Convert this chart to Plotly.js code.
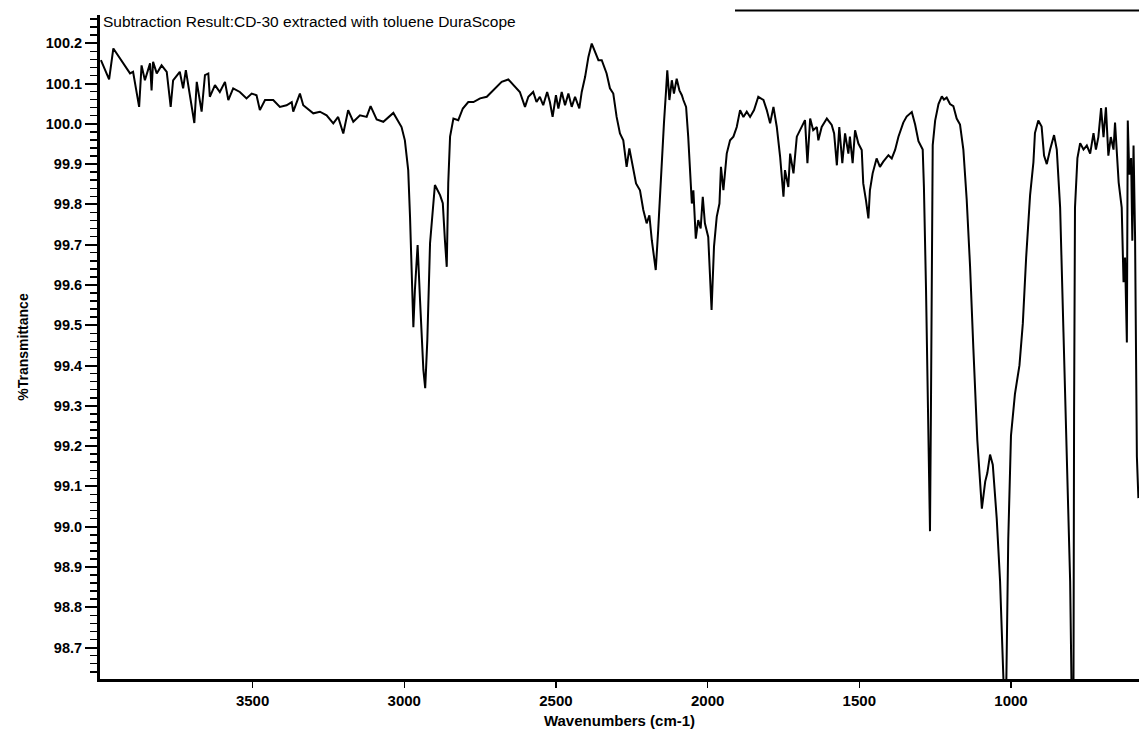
<!DOCTYPE html>
<html>
<head>
<meta charset="utf-8">
<script src="https://cdn.plot.ly/plotly-3.0.1.min.js"></script>
<style>html,body{margin:0;padding:0;background:#fff;}#chart{width:1139px;height:733px;}</style>
</head>
<body>
<div id="chart"></div>
<script>
// Wavenumbers (cm-1), descending
const wavenumber = [
4000,3973,3959,3937,3921,3904,3894,3874,3866,3855,3838,3833,3828,3816,3800,3783,3770,3762,3740,3729,
3720,3707,3692,3684,3668,3657,3646,3641,3624,3608,3591,3580,3564,3542,3520,3503,3487,3476,3459,3432,
3410,3388,3371,3366,3344,3333,3300,3278,3256,3234,3218,3201,3185,3168,3146,3124,3111,3091,3069,3036,
3020,3009,2998,2987,
2981,2970,2965,2956,2948,2937,2931,2924,2915,2899,2882,2873,2866,2860,2855,2849,2838,2822,2807,2789,
2772,2750,2728,2712,2695,2679,2657,2641,2619,2602,2591,2575,2564,2553,2542,2529,2520,2511,2500,2492,
2481,2470,2459,2448,2437,2423,2415,2404,2393,2382,2371,2360,2349,2333,2322,2311,2300,2289,2278,2267,
2258,2245,2236,2223,2212,2201,2192,2184,2171,2163,2151,2144,2137,2133,
2126,2118,2111,2102,2093,2085,2080,2071,2064,2056,2052,2047,2039,2031,2023,2016,2009,1998,1990,1987,
1979,1970,1961,1956,1948,1937,1926,1915,1904,1893,1882,1871,1860,1847,1833,1816,1805,1794,1783,1772,
1761,1750,1745,1734,1728,1717,1706,1696,1685,1679,1671,1662,1652,1640,1635,1624,1607,1591,1583,1574,
1566,1556,1547,1536,1531,1522,1514,1503,1492,1487,1478,1470,1465,1456,1443,1432,1421,1404,1393,1382,
1371,
1355,1344,1327,1316,1305,1291,1287,1280,1272,1267,1264,1261,1258,1250,1239,1228,1221,1212,1201,1190,
1179,1168,1157,1146,1135,1124,1111,1096,1085,1078,1069,1060,1047,1036,1023,1016,1009,1000,987,972,
961,950,937,926,921,910,899,891,882,871,858,849,838,827,816,805,800,794,792,789,
781,772,761,750,739,728,720,712,703,695,687,679,671,662,657,651,645,635,629,624,
618,615,610,604,600,596,591,585,580
];
// %Transmittance at each wavenumber
const transmittance = [
100.158,100.110,100.187,100.162,100.141,100.125,100.129,100.042,100.145,100.108,100.150,100.083,100.154,100.125,100.145,100.129,100.042,100.108,100.129,100.088,
100.133,100.067,100.002,100.104,100.030,100.121,100.125,100.067,100.096,100.079,100.104,100.059,100.088,100.079,100.063,100.075,100.071,100.034,100.059,100.059,
100.042,100.046,100.054,100.030,100.075,100.046,100.026,100.030,100.021,100.001,100.017,99.976,100.034,100.005,100.021,100.017,100.044,100.011,100.005,100.027,
100.005,99.992,99.959,99.885,
99.769,99.495,99.587,99.699,99.562,99.389,99.344,99.463,99.704,99.848,99.823,99.803,99.711,99.645,99.853,99.968,100.013,100.009,100.038,100.054,
100.054,100.063,100.067,100.079,100.092,100.104,100.110,100.096,100.079,100.042,100.067,100.079,100.054,100.067,100.046,100.079,100.054,100.017,100.071,100.038,
100.079,100.046,100.075,100.042,100.067,100.038,100.079,100.116,100.166,100.199,100.178,100.158,100.158,100.125,100.088,100.075,100.017,99.976,99.959,99.893,
99.939,99.885,99.852,99.835,99.786,99.753,99.773,99.711,99.637,99.736,99.926,100.001,100.083,100.133,
100.059,100.108,100.075,100.112,100.083,100.071,100.059,100.042,99.968,99.868,99.802,99.835,99.715,99.761,99.740,99.819,99.753,99.719,99.595,99.538,
99.695,99.769,99.802,99.893,99.835,99.926,99.959,99.968,99.992,100.034,100.017,100.030,100.017,100.034,100.067,100.059,100.034,100.001,100.042,99.992,
99.918,99.819,99.885,99.843,99.926,99.877,99.968,99.984,100.001,100.009,99.902,100.013,99.984,99.992,99.959,99.992,100.013,99.997,99.976,99.897,
99.992,99.902,99.976,99.926,99.968,99.902,99.984,99.951,99.935,99.852,99.810,99.765,99.835,99.877,99.914,99.893,99.906,99.922,99.914,99.935,
99.968,
100.003,100.018,100.029,99.998,99.957,99.936,99.843,99.586,99.277,98.989,99.277,99.689,99.947,100.008,100.049,100.068,100.060,100.065,100.049,100.044,
100.013,99.998,99.936,99.812,99.648,99.442,99.215,99.045,99.112,99.133,99.179,99.154,99.020,98.865,98.580,98.580,98.968,99.226,99.329,99.401,
99.504,99.668,99.823,99.905,99.977,100.008,99.993,99.921,99.900,99.936,99.972,99.936,99.792,99.483,99.174,98.865,98.580,98.580,99.277,99.792,
99.915,99.952,99.936,99.946,99.926,99.977,99.936,99.967,100.039,99.967,100.041,99.921,99.967,99.936,100.003,99.915,99.854,99.792,99.607,99.668,
99.457,100.008,99.874,99.915,99.710,99.946,99.720,99.174,99.071
];
const xTickValues = [3500, 3000, 2500, 2000, 1500, 1000];
const titleText = 'Subtraction Result:CD-30 extracted with toluene DuraScope';
const xTitle = 'Wavenumbers (cm-1)';
const yTitle = '%Transmittance';

const FONT = '"Liberation Sans", Arial, Helvetica, sans-serif';

const trace = {
  x: wavenumber, y: transmittance, type: 'scatter', mode: 'lines',
  line: {color: '#000', width: 2}, hoverinfo: 'x+y'
};

const layout = {
  width: 1139, height: 733,
  margin: {l: 100, r: 0, t: 15, b: 54},
  paper_bgcolor: '#fff', plot_bgcolor: '#fff',
  showlegend: false,
  font: {family: FONT, color: '#000'},
  title: {
    text: titleText, x: 103/1139, xref: 'container', xanchor: 'left',
    y: 1 - 22/733, yref: 'container', yanchor: 'middle',
    font: {family: FONT, size: 15.5, color: '#000'}
  },
  xaxis: {
    range: [4003, 578], showgrid: false, zeroline: false,
    showline: true, linecolor: '#000', linewidth: 3,
    ticks: 'outside', ticklen: 6, tickwidth: 1.5, tickcolor: '#000',
    tickmode: 'array', tickvals: xTickValues, ticktext: xTickValues.map(String),
    tickfont: {family: FONT, size: 15, weight: 'bold', color: '#000'},
    title: {text: xTitle, font: {family: FONT, size: 15, weight: 'bold', color: '#000'}, standoff: 8}
  },
  yaxis: {
    range: [98.622, 100.27], showgrid: false, zeroline: false,
    showline: true, linecolor: '#000', linewidth: 3,
    ticks: 'outside', ticklen: 12, tickwidth: 2, tickcolor: '#000',
    tick0: 100, dtick: 0.1, tickformat: '.1f',
    minor: {ticks: 'outside', dtick: 0.02, ticklen: 7, tickwidth: 1.5, tickcolor: '#000'},
    tickfont: {family: FONT, size: 14.5, weight: 'bold', color: '#000'},
    title: {text: yTitle, font: {family: FONT, size: 14, weight: 'bold', color: '#000'}, standoff: 14}
  },
  shapes: [{
    type: 'line', xref: 'paper', yref: 'paper',
    x0: (735-100)/1039, x1: 1, y0: 1 + 4.5/664, y1: 1 + 4.5/664,
    line: {color: '#000', width: 2}
  }]
};

Plotly.newPlot('chart', [trace], layout, {displayModeBar: false, staticPlot: true});
</script>
</body>
</html>
